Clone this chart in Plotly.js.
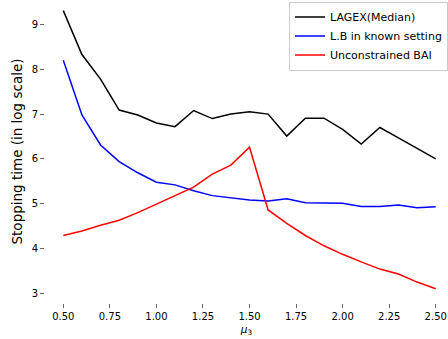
<!DOCTYPE html>
<html>
<head>
<meta charset="utf-8">
<script src="https://cdn.plot.ly/plotly-3.0.1.min.js"></script>
<style>html,body{margin:0;padding:0;background:#fff;overflow:hidden;}</style>
</head>
<body>
<div id="chart" style="width:448px;height:339px;"></div>
<script>
const mu3 = [0.5,0.6,0.7,0.8,0.9,1.0,1.1,1.2,1.3,1.4,1.5,1.6,1.7,1.8,1.9,2.0,2.1,2.2,2.3,2.4,2.5];
const lagex = [9.31,8.33,7.78,7.09,6.98,6.80,6.72,7.08,6.90,7.00,7.05,7.00,6.51,6.91,6.91,6.66,6.33,6.70,6.47,6.23,6.00];
const lowerBound = [8.20,6.98,6.31,5.94,5.69,5.48,5.42,5.29,5.18,5.13,5.08,5.06,5.11,5.02,5.02,5.01,4.94,4.94,4.97,4.91,4.93];
const unconstrained = [4.29,4.39,4.52,4.63,4.80,4.99,5.17,5.37,5.66,5.86,6.26,4.86,4.56,4.29,4.06,3.87,3.70,3.54,3.43,3.25,3.10];
const seriesNames = ["LAGEX(Median)","L.B in known setting","Unconstrained BAI"];
const xTicks = [0.5,0.75,1.0,1.25,1.5,1.75,2.0,2.25,2.5];
const xTickLabels = ["0.50","0.75","1.00","1.25","1.50","1.75","2.00","2.25","2.50"];
const yTicks = [3,4,5,6,7,8,9];

const font = "DejaVu Sans, sans-serif";
const traces = [
  {x: mu3, y: lagex, name: seriesNames[0], mode: "lines", line: {color: "black", width: 1.5}},
  {x: mu3, y: lowerBound, name: seriesNames[1], mode: "lines", line: {color: "blue", width: 1.5}},
  {x: mu3, y: unconstrained, name: seriesNames[2], mode: "lines", line: {color: "red", width: 1.5}}
];
const layout = {
  width: 448, height: 339,
  margin: {l: 45, r: 0, t: 0, b: 36, pad: 0},
  paper_bgcolor: "#fff", plot_bgcolor: "#fff",
  font: {family: font, size: 10, color: "#000"},
  showlegend: true,
  legend: {x: 1, xanchor: "right", y: 0.995, yanchor: "top", bgcolor: "#fff",
           bordercolor: "#ccc", borderwidth: 1, font: {family: font, size: 11},
           itemwidth: 30, tracegroupgap: 0},
  xaxis: {
    range: [0.4017, 2.566], showgrid: false, zeroline: false, showline: false,
    tickmode: "array", tickvals: xTicks, ticktext: xTickLabels,
    ticks: "outside", ticklen: 4, tickwidth: 1, tickcolor: "#666",
    tickfont: {family: font, size: 10},
    title: {text: "<i>μ</i><sub>3</sub>", font: {family: font, size: 10.5}, standoff: 4}
  },
  yaxis: {
    range: [2.783, 9.547], showgrid: false, zeroline: false, showline: false,
    tickmode: "array", tickvals: yTicks,
    ticks: "outside", ticklen: 4, tickwidth: 1, tickcolor: "#666",
    tickfont: {family: font, size: 10},
    title: {text: "Stopping time (in log scale)", font: {family: font, size: 13.5}, standoff: 5}
  }
};
Plotly.newPlot("chart", traces, layout, {displayModeBar: false, staticPlot: true});
</script>
</body>
</html>
